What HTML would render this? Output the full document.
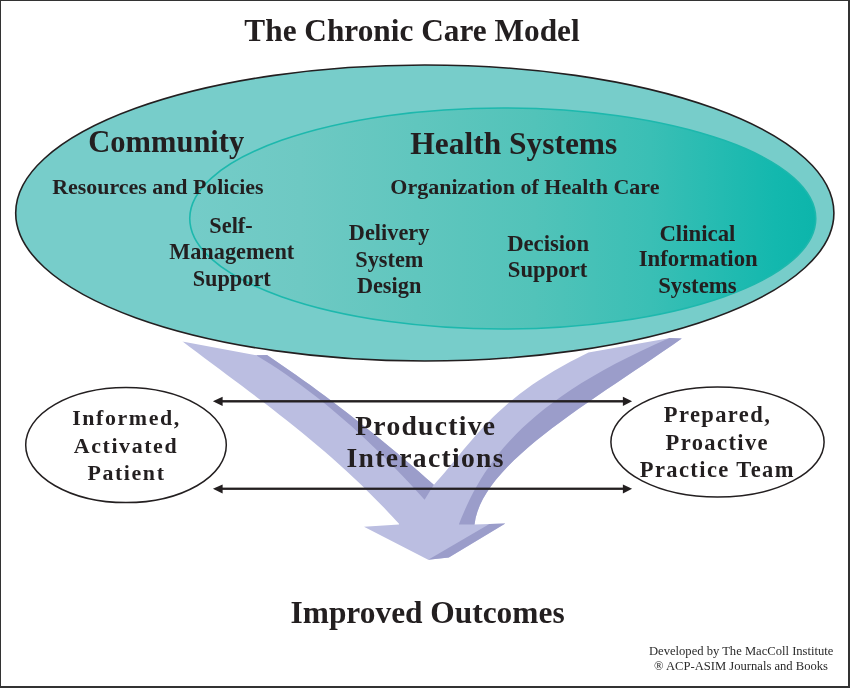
<!DOCTYPE html>
<html><head><meta charset="utf-8">
<style>
html,body{margin:0;padding:0;background:#fff;}
body{width:850px;height:688px;overflow:hidden;}
svg{display:block;will-change:transform;}
text{font-family:"Liberation Serif",serif;font-weight:bold;fill:#231f20;}
.ft{font-weight:normal;fill:#2a2a2a;}
</style></head><body>
<svg width="850" height="688" viewBox="0 0 850 688">
<defs>
<linearGradient id="ig" gradientUnits="userSpaceOnUse" x1="190" y1="0" x2="816" y2="0">
<stop offset="0" stop-color="#74ccc8"/>
<stop offset="0.176" stop-color="#6ec9c3"/>
<stop offset="0.55" stop-color="#52c3b9"/>
<stop offset="0.735" stop-color="#3abfb5"/>
<stop offset="0.935" stop-color="#13b8ae"/>
<stop offset="1" stop-color="#0cb5ab"/>
</linearGradient>
</defs>
<rect x="0" y="0" width="850" height="688" fill="#fff"/>
<!-- border -->
<rect x="0" y="0" width="850" height="1" fill="#333"/>
<rect x="0" y="0" width="1" height="688" fill="#333"/>
<rect x="848" y="0" width="2" height="688" fill="#333"/>
<rect x="0" y="686" width="850" height="2" fill="#333"/>

<text x="412" y="41" font-size="31.3" text-anchor="middle">The Chronic Care Model</text>

<ellipse cx="424.8" cy="213" rx="409.1" ry="148" fill="#77cdca" stroke="#231f20" stroke-width="1.6"/>
<ellipse cx="502.75" cy="218.5" rx="313" ry="110.5" fill="url(#ig)" stroke="#1db8ad" stroke-width="1.6"/>

<text x="166.3" y="152.2" font-size="30.5" text-anchor="middle">Community</text>
<text x="157.9" y="193.5" font-size="21.9" text-anchor="middle">Resources and Policies</text>
<text x="513.8" y="153.8" font-size="31.45" text-anchor="middle">Health Systems</text>
<text x="524.9" y="194" font-size="22" text-anchor="middle">Organization of Health Care</text>

<g font-size="22.3" text-anchor="middle">
<text x="231" y="232.8">Self-</text>
<text x="231.7" y="259.1">Management</text>
<text x="231.7" y="285.5">Support</text>
<text x="389.1" y="239.7">Delivery</text>
<text x="389.3" y="266.6">System</text>
<text x="389.1" y="293">Design</text>
</g>
<g font-size="22.7" text-anchor="middle">
<text x="548.1" y="250.8">Decision</text>
<text x="547.6" y="277.2">Support</text>
</g>
<g font-size="22.8" text-anchor="middle">
<text x="697.4" y="240.9">Clinical</text>
<text x="698.2" y="265.9">Information</text>
<text x="697.4" y="292.8">Systems</text>
</g>

<path fill="#bbbee1" d="M182.30,341.40 L256.50,355.30 L267.00,355.00 L267.00,355.07 L274.25,359.95 L281.50,364.90 L288.76,369.91 L296.01,375.00 L303.26,380.15 L310.51,385.37 L317.77,390.67 L325.02,396.03 L332.27,401.46 L339.52,406.97 L346.77,412.54 L354.03,418.18 L361.28,423.89 L368.53,429.68 L375.78,435.53 L383.03,441.45 L390.29,447.44 L397.54,453.50 L404.79,459.63 L412.04,465.83 L419.30,472.10 L426.55,478.44 L433.80,484.85 L432.65,486.20 L436.77,481.59 L440.78,476.99 L444.70,472.38 L448.56,467.77 L452.39,463.17 L456.19,458.56 L459.99,453.95 L463.82,449.34 L467.70,444.74 L471.64,440.13 L475.68,435.52 L479.82,430.92 L484.10,426.31 L488.53,421.70 L493.14,417.10 L497.95,412.49 L502.98,407.88 L508.26,403.28 L513.79,398.67 L519.62,394.06 L525.75,389.46 L532.21,384.85 L539.02,380.24 L546.21,375.63 L553.79,371.03 L561.79,366.42 L570.23,361.81 L579.13,357.21 L588.51,352.60 L670.20,338.10 L682.10,338.50 L681.73,338.50 L672.58,344.91 L663.27,351.33 L653.85,357.74 L644.35,364.16 L634.80,370.57 L625.23,376.98 L615.68,383.40 L606.17,389.81 L596.75,396.22 L587.43,402.64 L578.26,409.05 L569.27,415.47 L560.48,421.88 L551.93,428.29 L543.66,434.71 L535.69,441.12 L528.06,447.53 L520.80,453.95 L513.94,460.36 L507.51,466.78 L501.55,473.19 L496.09,479.60 L491.16,486.02 L486.79,492.43 L483.01,498.84 L479.86,505.26 L477.38,511.67 L475.58,518.09 L474.51,524.50 L505.30,523.50 L448.80,557.60 L428.20,559.80 L364.00,526.70 L399.00,524.60 L399.00,523.84 L391.53,515.73 L384.06,507.83 L376.58,500.14 L369.11,492.65 L361.64,485.35 L354.17,478.23 L346.69,471.27 L339.22,464.47 L331.75,457.82 L324.28,451.31 L316.80,444.93 L309.33,438.67 L301.86,432.52 L294.39,426.47 L286.91,420.51 L279.44,414.63 L271.97,408.82 L264.50,403.07 L257.02,397.38 L249.55,391.73 L242.08,386.11 L234.61,380.51 L227.13,374.93 L219.66,369.35 L212.19,363.77 L204.72,358.17 L197.24,352.54 L189.77,346.88 L182.30,341.17 Z"/>
<path fill="#9b9dca" d="M256.50,355.30 L267.00,355.00 L267.00,355.07 L274.25,359.95 L281.50,364.90 L288.76,369.91 L296.01,375.00 L303.26,380.15 L310.51,385.37 L317.77,390.67 L325.02,396.03 L332.27,401.46 L339.52,406.97 L346.77,412.54 L354.03,418.18 L361.28,423.89 L368.53,429.68 L375.78,435.53 L383.03,441.45 L390.29,447.44 L397.54,453.50 L404.79,459.63 L412.04,465.83 L419.30,472.10 L426.55,478.44 L433.80,484.85 L424.60,499.74 L417.29,491.66 L409.98,483.75 L402.67,476.01 L395.37,468.42 L388.06,461.01 L380.75,453.75 L373.44,446.66 L366.13,439.73 L358.82,432.97 L351.51,426.36 L344.20,419.93 L336.90,413.65 L329.59,407.55 L322.28,401.60 L314.97,395.82 L307.66,390.20 L300.35,384.74 L293.04,379.45 L285.73,374.33 L278.43,369.36 L271.12,364.56 L263.81,359.93 L256.50,355.45 Z"/>
<path fill="#9b9dca" d="M682.10,338.50 L681.73,338.50 L672.58,344.91 L663.27,351.33 L653.85,357.74 L644.35,364.16 L634.80,370.57 L625.23,376.98 L615.68,383.40 L606.17,389.81 L596.75,396.22 L587.43,402.64 L578.26,409.05 L569.27,415.47 L560.48,421.88 L551.93,428.29 L543.66,434.71 L535.69,441.12 L528.06,447.53 L520.80,453.95 L513.94,460.36 L507.51,466.78 L501.55,473.19 L496.09,479.60 L491.16,486.02 L486.79,492.43 L483.01,498.84 L479.86,505.26 L477.38,511.67 L475.58,518.09 L474.51,524.50 L458.82,524.50 L461.38,518.07 L464.09,511.64 L466.97,505.22 L470.04,498.79 L473.33,492.36 L476.84,485.93 L480.60,479.51 L484.64,473.08 L488.97,466.65 L493.62,460.22 L498.60,453.80 L503.94,447.37 L509.65,440.94 L515.77,434.51 L522.30,428.09 L529.27,421.66 L536.71,415.23 L544.62,408.80 L553.04,402.38 L561.99,395.95 L571.47,389.52 L581.53,383.09 L592.17,376.67 L603.41,370.24 L615.29,363.81 L627.81,357.38 L641.00,350.96 L654.89,344.53 L669.48,338.10 Z"/>
<path fill="#9b9dca" d="M505.30,523.50 L489.40,524.10 L428.20,559.80 L448.80,557.60 Z"/>

<!-- small ellipses -->
<ellipse cx="126" cy="445.1" rx="100.3" ry="57.5" fill="#fff" stroke="#231f20" stroke-width="1.5"/>
<ellipse cx="717.5" cy="442" rx="106.6" ry="55" fill="#fff" stroke="#231f20" stroke-width="1.5"/>

<!-- double arrows -->
<g fill="#231f20">
<rect x="220" y="400.1" width="405" height="2.4"/>
<path d="M212.9,401.3 L222.6,396.8 L222.6,406 Z"/>
<path d="M632.1,401.3 L622.9,396.8 L622.9,406 Z"/>
<rect x="220" y="487.6" width="405" height="2.3"/>
<path d="M212.9,488.8 L222.6,484.4 L222.6,493.5 Z"/>
<path d="M632.1,488.8 L622.9,484.4 L622.9,493.5 Z"/>
</g>

<g font-size="21.9" text-anchor="middle" letter-spacing="1.6">
<text x="126.5" y="424.7">Informed,</text>
<text x="126" y="452.6">Activated</text>
<text x="126.5" y="479.8">Patient</text>
</g>
<g font-size="22.5" text-anchor="middle" letter-spacing="1.4">
<text x="717.5" y="422.4">Prepared,</text>
<text x="717.3" y="450">Proactive</text>
<text x="717.3" y="477.4">Practice Team</text>
</g>
<g font-size="27.6" text-anchor="middle" letter-spacing="1.3">
<text x="425.8" y="434.6">Productive</text>
<text x="425.6" y="467">Interactions</text>
</g>

<text x="427.6" y="622.5" font-size="31.4" text-anchor="middle">Improved Outcomes</text>

<g font-size="12.6" text-anchor="middle" class="ft">
<text x="741.2" y="655" class="ft">Developed by The MacColl Institute</text>
<text x="741" y="669.8" class="ft">® ACP-ASIM Journals and Books</text>
</g>
</svg>
</body></html>
